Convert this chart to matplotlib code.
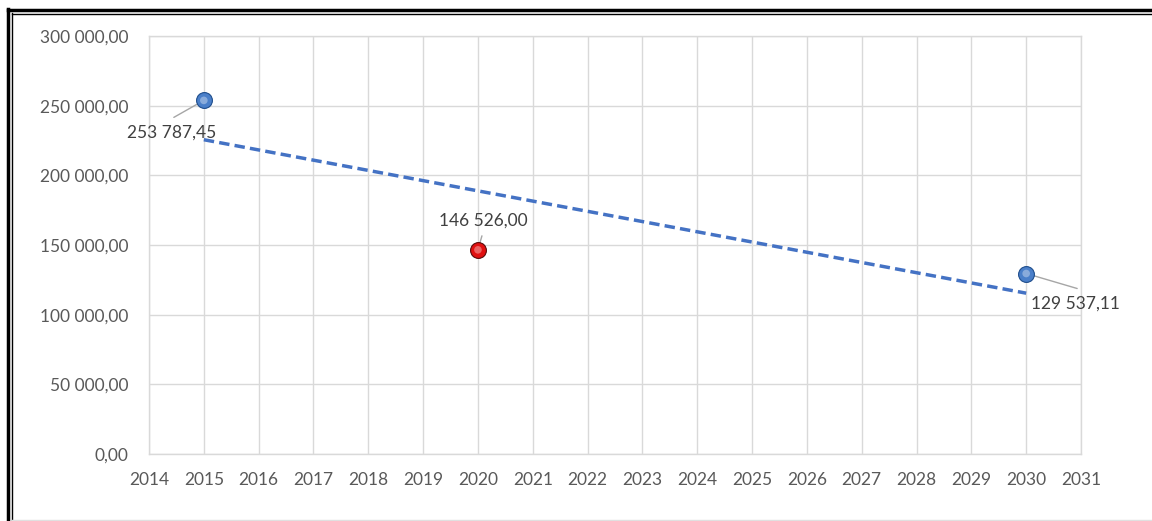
import numpy as np
import matplotlib.pyplot as plt
from matplotlib.lines import Line2D
from matplotlib.ticker import FuncFormatter

years = [2015, 2020, 2030]
values = [253787.45, 146526.00, 129537.11]
point_colors = ["#4a7fc9", "#e01010", "#4a7fc9"]
point_edges = ["#1f4e8c", "#5a0a0a", "#1f4e8c"]
labels = ["253 787,45", "146 526,00", "129 537,11"]

# label / leader offsets in pixels
label_offsets = [(-32, -32), (5, 29), (49, -30)]
leader_ends = [(-30, -17), (4, 14), (51, -15)]

plt.rcParams["font.family"] = ["Lato", "DejaVu Sans"]

fig = plt.figure(figsize=(11.52, 5.21), dpi=100)
ax = fig.add_axes([149 / 1152, 1 - 454 / 521, (1081 - 149) / 1152, (454 - 36) / 521])

grid_c = "#d9d9d9"
text_c = "#595959"

ax.set_xlim(2014, 2031)
ax.set_ylim(0, 300000)
ax.set_xticks(range(2014, 2032))
ax.set_yticks(range(0, 300001, 50000))
ax.grid(True, color=grid_c, linewidth=1.0)
ax.set_axisbelow(True)
for s in ax.spines.values():
    s.set_color(grid_c)
    s.set_linewidth(1.0)

fmt = FuncFormatter(lambda v, p: f"{v:,.2f}".replace(",", " ").replace(".", ","))
ax.yaxis.set_major_formatter(fmt)
ax.tick_params(axis="both", length=0, labelsize=12.5, labelcolor=text_c)
ax.tick_params(axis="y", pad=15)
ax.tick_params(axis="x", pad=13)

# linear trendline
coef = np.polyfit(years, values, 1)
tx = np.array([years[0], years[-1]])
ax.plot(tx, np.polyval(coef, tx), color="#4472c4", linestyle=(0, (3, 1.5)),
        linewidth=2.5, zorder=2)

for x, y, c, ec, lab, lo, le in zip(years, values, point_colors, point_edges,
                                    labels, label_offsets, leader_ends):
    ax.scatter(x, y, s=130, color=c, edgecolor=ec, linewidth=0.8, zorder=4)
    ax.scatter(x, y, s=30, color="white", alpha=0.35, zorder=5,
               edgecolor="none")
    ax.annotate("", xy=(x, y), xytext=le, textcoords="offset pixels",
                arrowprops=dict(arrowstyle="-", color="#a6a6a6", lw=1,
                                shrinkA=0, shrinkB=0), zorder=3)
    ax.annotate(lab, xy=(x, y), xytext=lo, textcoords="offset pixels",
                ha="center", va="center", fontsize=12.5, color="#404040",
                zorder=6)

# double frame on left and top
W, H = 1152, 521
fig.add_artist(Line2D([8 / W, 8 / W], [0, 1 - 9 / H], color="black", lw=2.5,
                      transform=fig.transFigure))
fig.add_artist(Line2D([12 / W, 12 / W], [0, 1 - 13 / H], color="black", lw=1,
                      transform=fig.transFigure))
fig.add_artist(Line2D([8 / W, 1], [1 - 10 / H, 1 - 10 / H], color="black",
                      lw=2.5, transform=fig.transFigure))
fig.add_artist(Line2D([12 / W, 1], [1 - 14 / H, 1 - 14 / H], color="black",
                      lw=1, transform=fig.transFigure))
fig.add_artist(Line2D([12 / W, 1], [1.5 / H, 1.5 / H], color="#e0e0e0",
                      lw=1, transform=fig.transFigure))

fig.savefig("out.png", dpi=100, facecolor="white")
